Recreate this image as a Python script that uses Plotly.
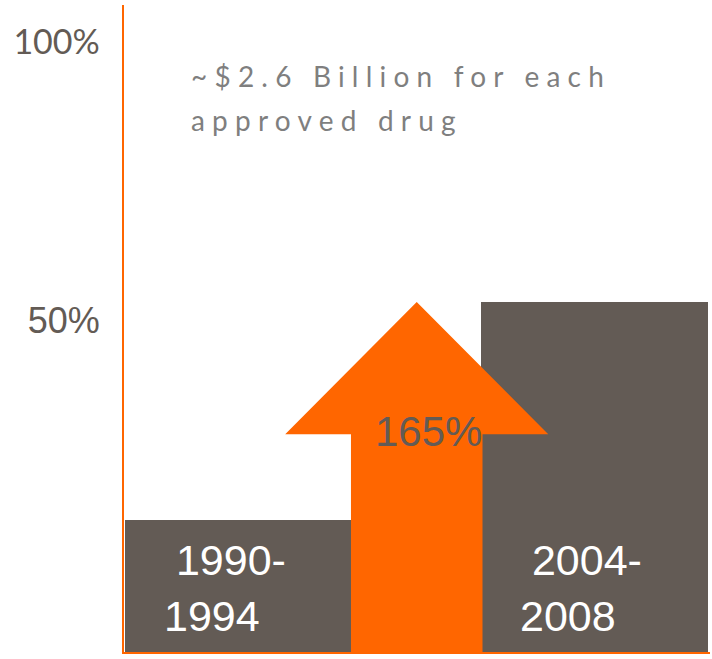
import plotly.graph_objects as go

# Data
periods = ["1990-1994", "2004-2008"]
period_labels = ["\u00a01990-<br>1994", "\u00a02004-<br>2008"]
cost_share = [19.9, 52.7]          # bar heights (axis units)
increase_label = "165%"
y_tickvals = [50, 92]
y_ticktext = ["50%", '<span style="font-family:Lato;font-size:34px">100%</span>']
note_lines = ["~$2.6 Billion for each", "approved drug"]

# Styles
BAR_COLOR = "#635B55"
ORANGE = "#FF6600"
NOTE_COLOR = "#7F7F7F"
x_pos = [0, 1]
bar_width = 0.64
shaft_half = 0.185
head_half = 0.37

fig = go.Figure()

fig.add_bar(
    x=x_pos, y=cost_share, width=bar_width,
    marker=dict(color=BAR_COLOR, line=dict(width=0)),
    hoverinfo="skip", showlegend=False,
)

# Growth arrow between the two periods: shaft rises to the gap, head spans the increase
low, high = cost_share
mid = (x_pos[0] + x_pos[1]) / 2
base = high - low
arrow_x = [mid - shaft_half, mid - shaft_half, mid - head_half, mid,
           mid + head_half, mid + shaft_half, mid + shaft_half, mid - shaft_half]
arrow_y = [0, base, base, high, base, base, 0, 0]
fig.add_scatter(
    x=arrow_x, y=arrow_y, mode="lines", fill="toself",
    fillcolor=ORANGE, line=dict(width=0, color=ORANGE),
    hoverinfo="skip", showlegend=False,
)

annotations = []
for xp, lab in zip(x_pos, period_labels):
    annotations.append(dict(
        x=xp - bar_width / 2, y=0, xref="x", yref="y",
        xanchor="left", yanchor="bottom", xshift=37, yshift=10,
        text=lab, align="left", showarrow=False,
        font=dict(family="Liberation Sans, Arial", size=43, color="white"),
    ))

annotations.append(dict(
    x=mid, y=base, xref="x", yref="y", xanchor="center", yanchor="middle",
    xshift=12, yshift=3, text=increase_label, showarrow=False,
    font=dict(family="Liberation Sans, Arial", size=42, color=BAR_COLOR),
))

for i, line in enumerate(note_lines):
    annotations.append(dict(
        x=-0.14, y=86.7 - i * 6.63, xref="x", yref="y",
        xanchor="left", yanchor="middle",
        text=f'<span style="letter-spacing:7.2px">{line}</span>',
        showarrow=False, align="left",
        font=dict(family="Lato", size=28, color=NOTE_COLOR),
    ))

fig.update_layout(
    width=712, height=659,
    margin=dict(l=124, r=2, t=5, b=7),
    paper_bgcolor="white", plot_bgcolor="white",
    annotations=annotations,
    bargap=0,
    xaxis=dict(
        range=[-0.3235, 1.325], showgrid=False, zeroline=False,
        showticklabels=False, ticks="",
        showline=True, linecolor=ORANGE, linewidth=2,
    ),
    yaxis=dict(
        range=[0, 97.44], showgrid=False, zeroline=False,
        tickmode="array", tickvals=y_tickvals, ticktext=y_ticktext,
        ticks="", ticklabelstandoff=15,
        tickfont=dict(family="Liberation Sans, Arial", size=36, color=BAR_COLOR),
        showline=True, linecolor=ORANGE, linewidth=2,
    ),
)

fig.write_html("out.html")
